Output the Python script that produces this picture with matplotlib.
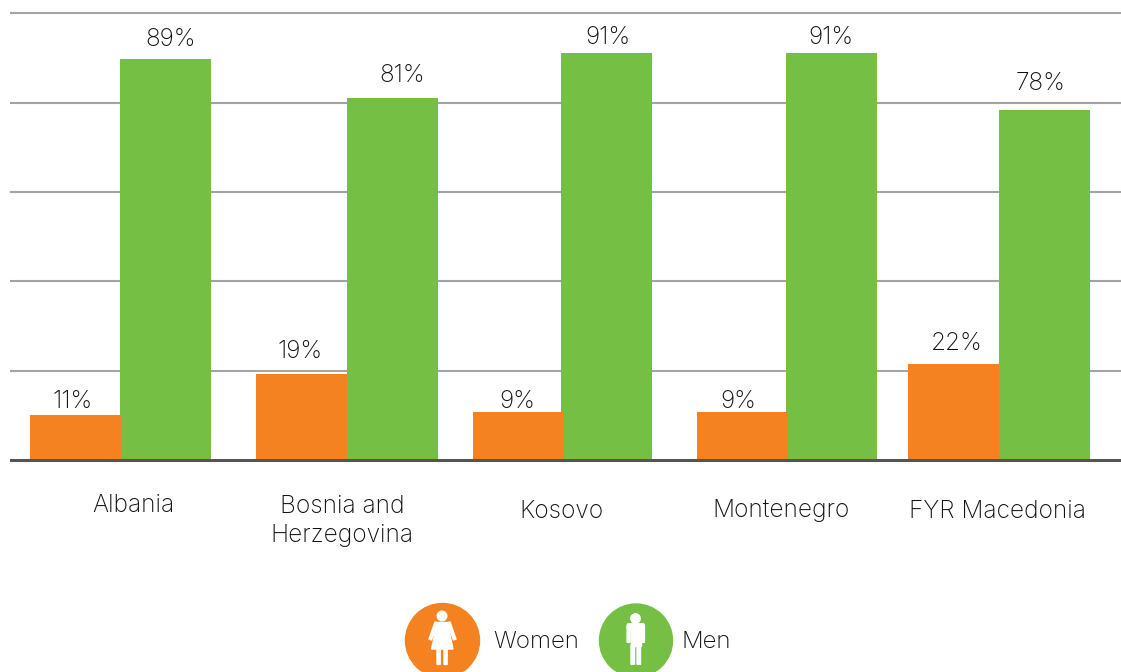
import matplotlib
matplotlib.use("Agg")
import matplotlib.pyplot as plt
from matplotlib.patches import Circle, Polygon, FancyBboxPatch

plt.rcParams['font.family'] = ['Inter', 'DejaVu Sans']

# Data
countries = ["Albania", "Bosnia and\nHerzegovina", "Kosovo", "Montenegro", "FYR Macedonia"]
women_labels = ["11%", "19%", "9%", "9%", "22%"]
men_labels = ["89%", "81%", "91%", "91%", "78%"]
women_heights = [10.0, 19.2, 10.7, 10.7, 21.5]     # bar heights, they differ a bit from the labels
men_heights = [89.8, 81.0, 91.2, 91.2, 78.4]
grid_ticks = [0, 20, 40, 60, 80, 100]

# Layout, in pixels of the picture
W, H = 1121, 672
bar_w = 91
women_right = [121, 347, 564, 788, 999]
men_left = [120, 347, 561, 786, 999]
women_label_x = [73, 300, 517, 738, 957]
women_label_y = [401, 352, 402, 402, 343]
men_label_x = [171, 402, 608, 831, 1041]
men_label_y = [39, 75, 38, 38, 84]
country_x = [133, 342, 561, 781, 997]
country_y = [505, 521, 512, 511, 511]

orange = "#F58220"
green = "#75C044"
px = 4.465                                         # pixels per percent

fig = plt.figure(figsize=(W / 100, H / 100), dpi=100)
ax = fig.add_axes([10 / W, 0, 1 - 10 / W, 1])
ax.set_xlim(10, W)
ax.set_ylim(-(H - 460) / px, 100 + 13.3 / px)

# Bars
ax.bar(women_right, women_heights, width=-bar_w, align="edge", color=orange, zorder=4)
ax.bar(men_left, men_heights, width=bar_w, align="edge", color=green, zorder=3)

# Grid lines
for t in grid_ticks[1:]:
    ax.axhline(t, color="#a3a3a3", lw=1.5, zorder=1)
ax.axhline(0, color="#555555", lw=2.2, zorder=5)
ax.axis("off")

# Overlay in picture pixels, for texts and legend
ov = fig.add_axes([0, 0, 1, 1])
ov.set_xlim(0, W)
ov.set_ylim(H, 0)
ov.axis("off")
ov.patch.set_alpha(0)

txt = dict(ha="center", va="center", fontsize=17.6, color="#111111", fontweight="light")
for x, y, s in zip(women_label_x, women_label_y, women_labels):
    ov.text(x, y, s, **txt)
for x, y, s in zip(men_label_x, men_label_y, men_labels):
    ov.text(x, y, s, **txt)
for x, y, s in zip(country_x, country_y, countries):
    ov.text(x, y, s, linespacing=1.35, **txt)

# Legend
ov.add_patch(Circle((442.5, 640.5), 37, color=orange))
ov.add_patch(Circle((636, 640.5), 36.5, color=green))
ov.text(493, 642, "Women", ha="left", va="center", fontsize=17.4, color="#111111", fontweight="light")
ov.text(682, 642, "Men", ha="left", va="center", fontsize=17.4, color="#111111", fontweight="light")

# Woman icon
ov.add_patch(Circle((442, 616), 4.8, color="white"))
ov.add_patch(Polygon([(437.5, 623), (447.5, 623), (453, 649), (431.5, 649)], color="white"))
ov.add_patch(Polygon([(435, 622), (438, 623), (431.5, 640), (429, 639)], color="white"))
ov.add_patch(Polygon([(450, 622), (447, 623), (453.5, 640), (456, 639)], color="white"))
ov.add_patch(Polygon([(435, 622), (450, 622), (450, 624), (435, 624)], color="white"))
ov.add_patch(FancyBboxPatch((437.5, 649), 2.2, 15, boxstyle="round,pad=0.5", color="white"))
ov.add_patch(FancyBboxPatch((444.5, 649), 2.2, 15, boxstyle="round,pad=0.5", color="white"))

# Man icon
ov.add_patch(Circle((635.5, 618.5), 4.7, color="white"))
ov.add_patch(FancyBboxPatch((628.5, 625), 14.5, 3, boxstyle="round,pad=1.2", color="white"))
ov.add_patch(FancyBboxPatch((627.5, 626), 2.2, 16, boxstyle="round,pad=0.4", color="white"))
ov.add_patch(FancyBboxPatch((641.8, 626), 2.2, 16, boxstyle="round,pad=0.4", color="white"))
ov.add_patch(Polygon([(631, 625), (640.5, 625), (640.5, 646), (631, 646)], color="white"))
ov.add_patch(FancyBboxPatch((631.3, 645), 2.9, 19, boxstyle="round,pad=0.3", color="white"))
ov.add_patch(FancyBboxPatch((637.3, 645), 2.9, 19, boxstyle="round,pad=0.3", color="white"))

fig.savefig("out.png", dpi=100)
